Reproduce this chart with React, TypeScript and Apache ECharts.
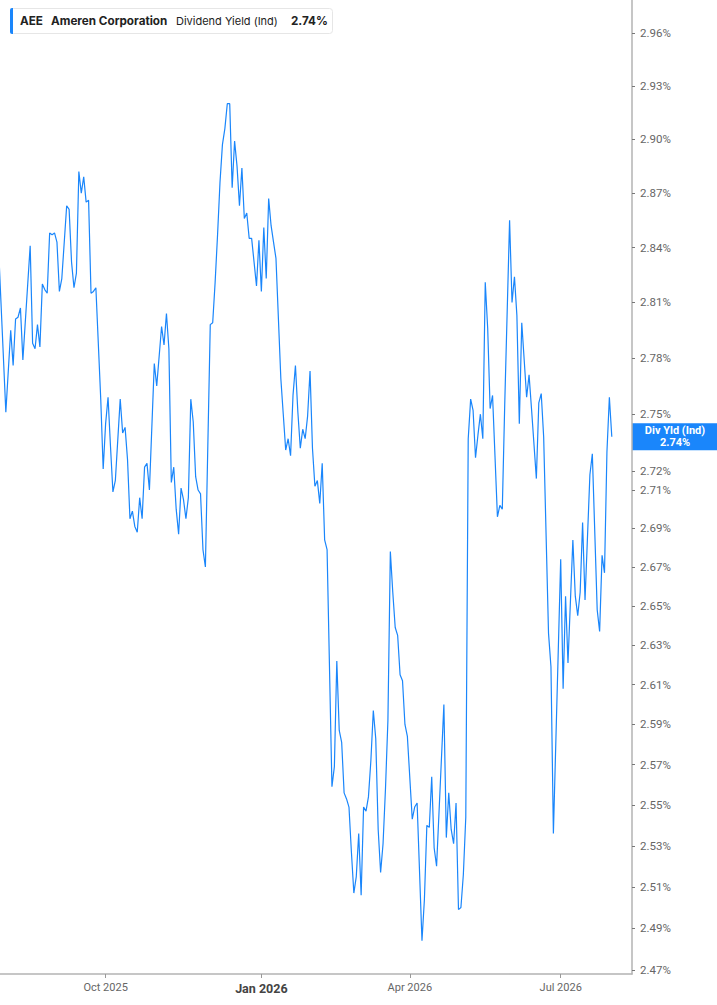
import { useEffect, useRef } from 'react';
import * as echarts from 'echarts';

// ---------------------------------------------------------------------------
// Data (trading-day index from Jul 31 2025, dividend yield in %)
// ---------------------------------------------------------------------------

const dayIndex = [
  0, 3, 5, 6, 7, 8, 9, 10, 13, 14, 15, 16, 17, 18, 19, 20, 21, 22, 23, 24,
  25, 26, 28, 29, 30, 31, 32, 33, 34, 35, 36, 37, 38, 39, 40, 42, 43, 44, 45, 46,
  47, 48, 50, 51, 52, 53, 54, 55, 56, 57, 58, 59, 60, 61, 62, 64, 65, 67, 68, 69,
  70, 71, 72, 73, 74, 75, 76, 77, 78, 79, 80, 81, 82, 83, 84, 85, 87, 88, 89, 90,
  91, 92, 93, 94, 95, 96, 97, 98, 99, 100, 101, 102, 103, 104, 105, 106, 107, 108, 109, 110,
  111, 112, 113, 114, 116, 117, 118, 119, 120, 121, 122, 123, 124, 125, 126, 127, 128, 129, 130, 131,
  132, 133, 134, 135, 137, 138, 139, 140, 141, 142, 143, 144, 145, 146, 147, 148, 149, 150, 151, 152,
  153, 154, 155, 156, 157, 158, 159, 160, 161, 162, 163, 164, 165, 166, 167, 168, 170, 171, 172, 174,
  175, 176, 177, 178, 179, 180, 183, 184, 185, 186, 187, 188, 189, 190, 191, 192, 193, 194, 195, 196,
  197, 198, 199, 200, 201, 202, 203, 205, 206, 207, 208, 210, 211, 212, 213, 214, 215, 217, 218, 219,
  221, 222, 223, 224, 226, 227, 228, 231, 232, 233, 234, 236, 237, 238, 239, 240, 241, 243, 244, 246,
  247, 248, 249, 250, 251, 252,
];

const divYield = [
  2.840, 2.751, 2.795, 2.776, 2.801, 2.802, 2.807, 2.779, 2.841, 2.788, 2.785, 2.798, 2.786, 2.820, 2.817, 2.815, 2.848, 2.847, 2.848, 2.843,
  2.816, 2.823, 2.863, 2.861, 2.832, 2.818, 2.826, 2.882, 2.870, 2.879, 2.865, 2.866, 2.815, 2.816, 2.818, 2.758, 2.721, 2.745, 2.759, 2.733,
  2.709, 2.715, 2.758, 2.740, 2.743, 2.726, 2.695, 2.699, 2.691, 2.688, 2.706, 2.695, 2.722, 2.724, 2.710, 2.777, 2.765, 2.797, 2.787, 2.804,
  2.785, 2.714, 2.722, 2.700, 2.687, 2.711, 2.705, 2.695, 2.706, 2.758, 2.746, 2.717, 2.710, 2.708, 2.679, 2.670, 2.798, 2.799, 2.821, 2.847,
  2.876, 2.897, 2.906, 2.920, 2.920, 2.873, 2.899, 2.885, 2.863, 2.884, 2.856, 2.859, 2.845, 2.845, 2.832, 2.819, 2.844, 2.816, 2.851, 2.823,
  2.867, 2.852, 2.843, 2.834, 2.769, 2.750, 2.731, 2.737, 2.728, 2.760, 2.776, 2.751, 2.732, 2.742, 2.737, 2.749, 2.773, 2.732, 2.712, 2.715,
  2.703, 2.724, 2.684, 2.679, 2.559, 2.569, 2.622, 2.587, 2.581, 2.556, 2.553, 2.549, 2.527, 2.507, 2.515, 2.536, 2.506, 2.549, 2.547, 2.554,
  2.572, 2.597, 2.583, 2.538, 2.517, 2.531, 2.558, 2.592, 2.678, 2.657, 2.639, 2.635, 2.615, 2.612, 2.590, 2.584, 2.543, 2.549, 2.551, 2.484,
  2.504, 2.540, 2.539, 2.564, 2.529, 2.520, 2.600, 2.534, 2.556, 2.538, 2.531, 2.551, 2.499, 2.500, 2.516, 2.544, 2.737, 2.758, 2.752, 2.727,
  2.739, 2.750, 2.737, 2.821, 2.796, 2.753, 2.760, 2.696, 2.702, 2.700, 2.755, 2.855, 2.810, 2.824, 2.803, 2.745, 2.799, 2.759, 2.771, 2.753,
  2.716, 2.756, 2.761, 2.738, 2.636, 2.619, 2.536, 2.674, 2.608, 2.655, 2.621, 2.684, 2.655, 2.645, 2.657, 2.693, 2.653, 2.718, 2.729, 2.648,
  2.637, 2.676, 2.667, 2.730, 2.759, 2.738,
];

const yTicks = [
  2.47, 2.49, 2.51, 2.53, 2.55, 2.57, 2.59, 2.61, 2.63, 2.65, 2.67, 2.69,
  2.71, 2.72, 2.75, 2.78, 2.81, 2.84, 2.87, 2.9, 2.93, 2.96,
];

const xTickDays = [44, 108, 169, 231];
const xTickLabels = ['Oct 2025', 'Jan 2026', 'Apr 2026', 'Jul 2026'];

const ticker = 'AEE';
const company = 'Ameren Corporation';
const metric = 'Dividend Yield (Ind)';
const metricShort = 'Div Yld (Ind)';

// ---------------------------------------------------------------------------
// Style
// ---------------------------------------------------------------------------

const LINE = '#1a86fb';
const AXIS = '#b3b3b3';
const LABEL = '#666';

const X_MIN = 0.6;
const X_MAX = 260.3;
const Y_MIN = 2.4681;
const Y_MAX = 2.9791;

function xLabel(v: number): string {
  const k = xTickDays.indexOf(Math.round(v));
  if (k < 0) return '';
  const text = xTickLabels[k];
  return text.startsWith('Jan') ? `{b|${text}}` : text;
}

function buildOption(): echarts.EChartsOption {
  return {
    animation: false,
    grid: { left: 0, right: 85, top: 0, bottom: 31, outerBoundsMode: 'none' } as any,
    xAxis: {
      type: 'value',
      min: X_MIN,
      max: X_MAX,
      axisLine: { show: true, onZero: false, lineStyle: { color: AXIS, width: 1.5 } },
      axisTick: { show: true, customValues: xTickDays, length: 4, lineStyle: { color: '#999' } } as any,
      axisLabel: {
        customValues: xTickDays,
        formatter: xLabel,
        color: LABEL,
        fontSize: 11,
        fontFamily: 'Roboto',
        margin: 8,
        rich: { b: { fontWeight: 'bold', fontSize: 12.5, color: '#444', fontFamily: 'Roboto' } },
      } as any,
      splitLine: { show: false },
    },
    yAxis: {
      type: 'log',
      logBase: 10,
      position: 'right',
      min: Y_MIN,
      max: Y_MAX,
      axisLine: { show: true, lineStyle: { color: AXIS, width: 1.5 } },
      axisTick: { show: true, customValues: yTicks, length: 3, lineStyle: { color: '#777' } } as any,
      axisLabel: {
        customValues: yTicks,
        formatter: (v: number) => `${v.toFixed(2)}%`,
        color: LABEL,
        fontSize: 11.5,
        fontFamily: 'Roboto',
        margin: 8,
      } as any,
      splitLine: { show: false },
    },
    series: [
      {
        type: 'line',
        data: dayIndex.map((d, k) => [d, divYield[k]]),
        showSymbol: false,
        clip: true,
        lineStyle: { color: LINE, width: 1.2 },
      },
    ],
  };
}

function buildGraphics(yPx: number, last: number): any[] {
  const pct = `${last.toFixed(2)}%`;
  const bold = 'bold 11.7px Inter';
  const normal = 'normal 11px Inter';
  return [
    {
      type: 'group',
      children: [
        { type: 'rect', shape: { x: 10.5, y: 8.5, width: 322, height: 25, r: 3 }, style: { fill: '#fff', stroke: '#e6e6e6', lineWidth: 1 } },
        { type: 'rect', shape: { x: 10, y: 8, width: 3, height: 26, r: [2, 0, 0, 2] }, style: { fill: LINE } },
        { type: 'text', x: 20, y: 21, style: { text: ticker, font: bold, fill: '#222', textVerticalAlign: 'middle' } },
        { type: 'text', x: 51, y: 21, style: { text: company, font: bold, fill: '#222', textVerticalAlign: 'middle' } },
        { type: 'text', x: 176, y: 21, style: { text: metric, font: normal, fill: '#222', textVerticalAlign: 'middle' } },
        { type: 'text', x: 291, y: 21, style: { text: pct, font: bold, fill: '#222', textVerticalAlign: 'middle' } },
      ],
    },
    {
      type: 'group',
      children: [
        { type: 'rect', shape: { x: 632, y: yPx - 13.5, width: 85, height: 27 }, style: { fill: LINE } },
        {
          type: 'text',
          x: 675,
          y: yPx,
          style: {
            text: `${metricShort}\n${pct}`,
            font: 'bold 11px Roboto',
            lineHeight: 12,
            fill: '#fff',
            textAlign: 'center',
            textVerticalAlign: 'middle',
          },
        },
      ],
    },
  ];
}

// ---------------------------------------------------------------------------
// Component
// ---------------------------------------------------------------------------

export default function App() {
  const containerRef = useRef<HTMLDivElement | null>(null);

  useEffect(() => {
    if (!containerRef.current) return;
    const chart = echarts.init(containerRef.current, null, { renderer: 'svg' });
    chart.setOption(buildOption());

    const last = divYield[divYield.length - 1];
    const yPx = chart.convertToPixel({ yAxisIndex: 0 }, last) as number;
    chart.setOption({ graphic: buildGraphics(yPx, last) });

    return () => {
      chart.dispose();
    };
  }, []);

  return (
    <div
      ref={containerRef}
      style={{ position: 'fixed', left: 0, top: 0, width: 717, height: 1005, background: '#fff' }}
    />
  );
}
